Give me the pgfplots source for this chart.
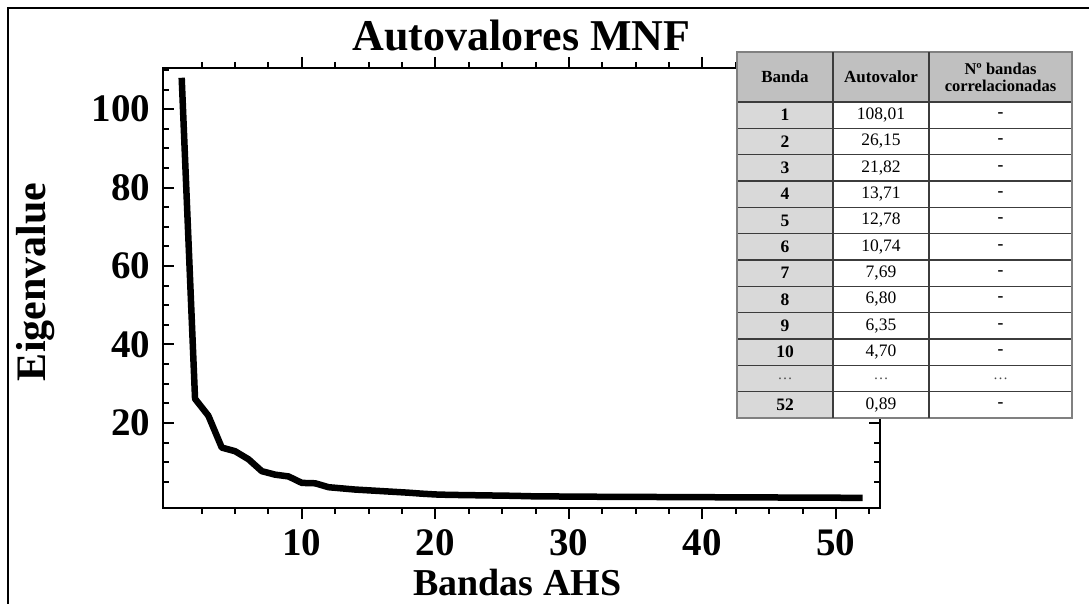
\documentclass[border=0pt]{standalone}
\usepackage{fontspec}
\setmainfont{Liberation Serif}
\usepackage{pgfplots}
\pgfplotsset{compat=1.18}
\usepackage{pgfplotstable}

\definecolor{hdrgray}{RGB}{192,192,192}
\definecolor{colgray}{RGB}{217,217,217}
\definecolor{gridc}{RGB}{60,60,60}

\pgfplotstableread{
band eig
1 108.01
2 26.15
3 21.82
4 13.71
5 12.78
6 10.74
7 7.69
8 6.80
9 6.35
10 4.70
11 4.60
12 3.60
13 3.30
14 3.00
15 2.80
16 2.60
17 2.40
18 2.20
19 1.95
20 1.75
21 1.65
22 1.60
23 1.55
24 1.50
25 1.45
26 1.40
27 1.30
28 1.27
29 1.24
30 1.21
31 1.19
32 1.17
33 1.15
34 1.14
35 1.12
36 1.11
37 1.10
38 1.08
39 1.07
40 1.05
41 1.04
42 1.03
43 1.02
44 1.00
45 0.99
46 0.97
47 0.96
48 0.94
49 0.93
50 0.92
51 0.90
52 0.89
}\eigdata

\begin{document}
\begin{tikzpicture}
\useasboundingbox (0pt,0pt) rectangle (1089pt,604pt);
% outer frame (top and left)
\draw[line width=2.7pt] (8pt,0pt) -- (8pt,596pt) -- (1089pt,596pt);

\begin{axis}[
  at={(163pt,96pt)}, anchor=south west,
  scale only axis, width=717pt, height=440pt,
  xmin=-0.4, xmax=53.3, ymin=-1.7, ymax=110.5,
  xtick={10,20,30,40,50},
  minor xtick={2.5,5,7.5,12.5,15,17.5,22.5,25,27.5,32.5,35,37.5,42.5,45,47.5,52.5},
  ytick={20,40,60,80,100},
  minor ytick={5,10,15,25,30,35,45,50,55,65,70,75,85,90,95,105,110},
  xtick align=outside, ytick align=inside,
  major tick length=11pt, minor tick length=6pt,
  axis line style={line width=2.5pt},
  tick style={black, line width=2pt},
  /pgf/number format/assume math mode=true,
  tick label style={font=\fontsize{39}{39}\selectfont\bfseries},
  xticklabel style={yshift=-7pt},
  yticklabel style={xshift=-9pt},
  title={Autovalores MNF},
  title style={font=\fontsize{44}{44}\selectfont\bfseries, at={(axis description cs:0.5,1.025)}, anchor=base},
  xlabel={Bandas AHS},
  xlabel style={font=\fontsize{38}{38}\selectfont\bfseries, at={(axis description cs:0.494,-0.2)}, anchor=base},
  ylabel={Eigenvalue},
  ylabel style={font=\fontsize{42}{42}\selectfont\bfseries, at={(axis description cs:-0.178,0.514)}, anchor=center, rotate=0},
]
\addplot[black, line width=6.5pt, line join=round] table[x=band, y=eig] {\eigdata};
\end{axis}

% table overlay
\begin{scope}[x=1pt,y=1pt]
  \fill[white] (737,186) rectangle (1072,552);
  \fill[hdrgray] (737,502) rectangle (1072,552);
  \fill[colgray] (737,186) rectangle (833,502);
  % horizontal lines
  \foreach \k in {0,...,12} {
    \draw[gridc, line width=1.3pt] (737,{502-\k*26.333}) -- (1072,{502-\k*26.333});
  }
  \draw[gray, line width=1.3pt] (737,186) rectangle (1072,552);
  \draw[gridc, line width=1.3pt] (833,186) -- (833,552);
  \draw[gridc, line width=1.3pt] (929,186) -- (929,552);
  % header
  \node[font=\fontsize{17}{17}\selectfont\bfseries] at (785,527) {Banda};
  \node[font=\fontsize{17}{17}\selectfont\bfseries] at (881,527) {Autovalor};
  \node[font=\fontsize{16.5}{17}\selectfont\bfseries, align=center] at (1000.5,527) {Nº bandas\\correlacionadas};
  % body
  \foreach \b/\v/\c [count=\i] in {1/{108,01}/-,2/{26,15}/-,3/{21,82}/-,4/{13,71}/-,5/{12,78}/-,6/{10,74}/-,7/{7,69}/-,8/{6,80}/-,9/{6,35}/-,10/{4,70}/-,{}/{}/{},52/{0,89}/-} {
    \node[font=\fontsize{17.5}{17.5}\selectfont\bfseries] at (785,{502-(\i-0.5)*26.333}) {\b};
    \node[font=\fontsize{17.5}{17.5}\selectfont] at (881,{502-(\i-0.5)*26.333}) {\v};
    \node[font=\fontsize{17.5}{17.5}\selectfont\bfseries] at (1000.5,{502-(\i-0.5)*26.333}) {\c};
  }
  \node[font=\fontsize{15}{15}\selectfont, text=black!70] at (785,{502-10.5*26.333}) {…};
  \node[font=\fontsize{15}{15}\selectfont, text=black!70] at (881,{502-10.5*26.333}) {…};
  \node[font=\fontsize{15}{15}\selectfont, text=black!70] at (1000.5,{502-10.5*26.333}) {…};
\end{scope}
\end{tikzpicture}
\end{document}
